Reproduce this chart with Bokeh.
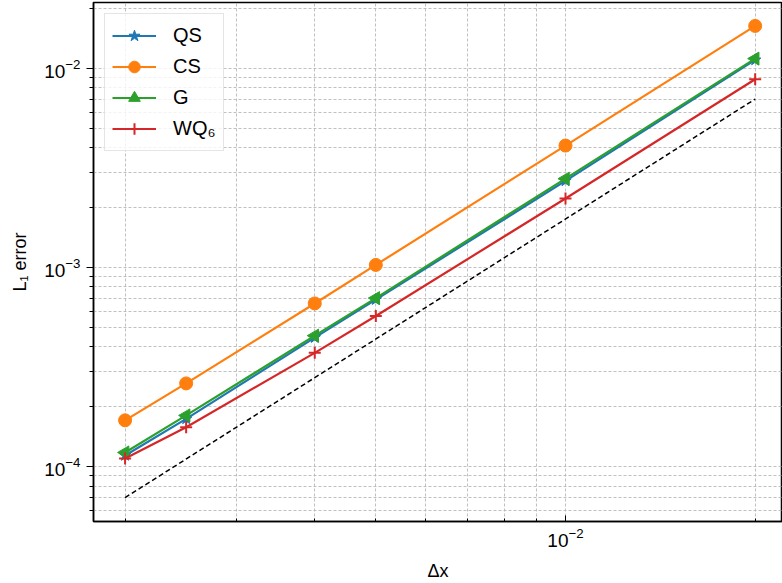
import math
from bokeh.plotting import figure
from bokeh.models import FixedTicker, Legend, LegendItem, LogTickFormatter
from bokeh.embed import file_html
from bokeh.resources import INLINE

# ---- data ----
dx = [0.002, 0.0025, 0.004, 0.005, 0.01, 0.02]
qs = [1.14e-4, 1.74e-4, 4.45e-4, 6.9e-4, 2.72e-3, 1.10e-2]
cs = [1.71e-4, 2.62e-4, 6.6e-4, 1.03e-3, 4.09e-3, 1.63e-2]
g = [1.18e-4, 1.81e-4, 4.55e-4, 7.02e-4, 2.79e-3, 1.117e-2]
wq6 = [1.10e-4, 1.58e-4, 3.73e-4, 5.71e-4, 2.22e-3, 8.8e-3]
ref_dx = [0.002, 0.02]
ref_err = [7.0e-5, 7.0e-3]

series_names = ["QS", "CS", "G", "WQ\u2086"]
colors = ["#1f77b4", "#ff7f0e", "#2ca02c", "#d62728"]

major_y = [1e-4, 1e-3, 1e-2]
major_x = [1e-3, 1e-2]
minor_y = [k * 10.0 ** e for e in (-5, -4, -3, -2) for k in range(2, 10)]
minor_x = [k * 10.0 ** e for e in (-3, -2) for k in range(2, 10)]

FONT = "Liberation Sans"

p = figure(width=782, height=583, x_axis_type="log", y_axis_type="log",
           x_range=(1.782e-3, 2.210e-2), y_range=(5.314e-5, 2.136e-2),
           output_backend="svg", toolbar_location=None,
           min_border_left=93, min_border_right=0, min_border_top=2,
           min_border_bottom=60)

p.outline_line_color = "black"
p.outline_line_width = 1.5
p.outline_line_alpha = 1.0

# axes
p.xaxis.ticker = FixedTicker(ticks=major_x, minor_ticks=minor_x)
p.yaxis.ticker = FixedTicker(ticks=major_y, minor_ticks=minor_y)
p.xaxis.formatter = LogTickFormatter()
p.yaxis.formatter = LogTickFormatter()
for ax in (p.xaxis[0], p.yaxis[0]):
    ax.axis_line_color = "black"
    ax.axis_line_width = 1.5
    ax.major_tick_line_color = "black"
    ax.minor_tick_line_color = "black"
    ax.major_label_text_font = FONT
    ax.major_label_text_font_size = "19px"
    ax.major_label_text_color = "black"
    ax.axis_label_text_font = FONT
    ax.axis_label_text_font_size = "18px"
    ax.axis_label_text_font_style = "normal"
    ax.axis_label_text_color = "black"

p.yaxis.major_tick_out = 7
p.yaxis.major_tick_in = 0
p.yaxis.minor_tick_out = 4
p.yaxis.minor_tick_in = 0
p.xaxis.major_tick_out = 0
p.xaxis.major_tick_in = 6
p.xaxis.minor_tick_out = 0
p.xaxis.minor_tick_in = 3

p.yaxis.axis_label = "L\u2081 error"
p.xaxis.axis_label = "\u0394x"
p.yaxis.axis_label_standoff = 11
p.xaxis.axis_label_standoff = 11
p.yaxis.major_label_standoff = 6
p.xaxis.major_label_standoff = 6

# grid
for gr in (p.xgrid[0], p.ygrid[0]):
    gr.grid_line_color = "#b0b0b0"
    gr.grid_line_dash = "3 2"
    gr.grid_line_width = 0.8
    gr.minor_grid_line_color = "#b0b0b0"
    gr.minor_grid_line_dash = "3 2"
    gr.minor_grid_line_width = 0.8

# reference slope line
p.line(ref_dx, ref_err, line_color="black", line_dash="5 3", line_width=1.5)

items = []
# QS
l1 = p.line(dx, qs, line_color=colors[0], line_width=2.2)
m1 = p.scatter(dx, qs, marker="star", size=12, fill_color=colors[0], line_color=colors[0])
items.append(LegendItem(label=series_names[0], renderers=[l1, m1]))
# CS
l2 = p.line(dx, cs, line_color=colors[1], line_width=2.2)
m2 = p.scatter(dx, cs, marker="circle", size=13, fill_color=colors[1], line_color=colors[1])
items.append(LegendItem(label=series_names[1], renderers=[l2, m2]))
# G
l3 = p.line(dx, g, line_color=colors[2], line_width=2.2)
m3 = p.scatter(dx, g, marker="triangle", angle=math.pi / 2, size=13,
               fill_color=colors[2], line_color=colors[2])
items.append(LegendItem(label=series_names[2], renderers=[l3, m3]))
# WQ6
l4 = p.line(dx, wq6, line_color=colors[3], line_width=2.2)
m4 = p.scatter(dx, wq6, marker="cross", size=12, line_color=colors[3], line_width=2)
items.append(LegendItem(label=series_names[3], renderers=[l4, m4]))

legend = Legend(items=items, location="top_left")
legend.margin = 11
legend.padding = 7
legend.spacing = 2
legend.glyph_width = 44
legend.glyph_height = 29
legend.label_height = 29
legend.label_standoff = 17
legend.label_text_font = FONT
legend.label_text_font_size = "20px"
legend.label_text_color = "black"
legend.border_line_color = "#cccccc"
legend.border_line_width = 1.2
legend.background_fill_alpha = 0.8
p.add_layout(legend)

open("out.html", "w").write(file_html(p, INLINE))
